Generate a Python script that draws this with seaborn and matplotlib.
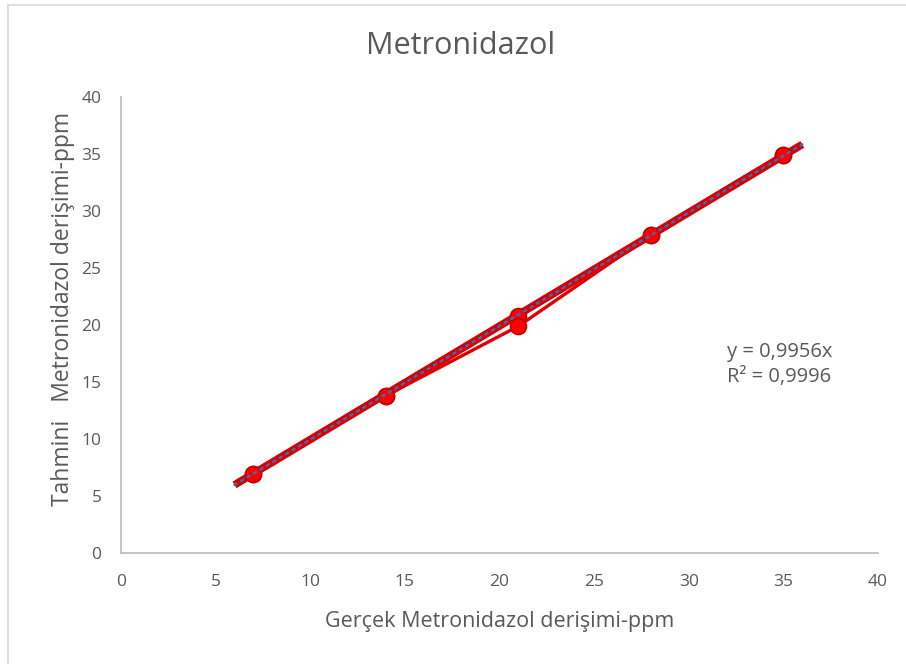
import matplotlib
matplotlib.use("Agg")
import matplotlib.pyplot as plt
from matplotlib.lines import Line2D
import numpy as np
import pandas as pd
import seaborn as sns

# Measured vs. predicted concentrations (ppm); the 21 ppm level has two readings
gercek = [7, 14, 21, 28, 35]
tahmin_a = [6.9, 13.8, 20.8, 27.9, 34.9]
tahmin_b = [6.9, 13.8, 19.9, 27.9, 34.9]

# Linear trendline through the origin
egim = 0.9956
r_kare = 0.9996
trend_x = [6, 36]

x_ticks = [0, 5, 10, 15, 20, 25, 30, 35, 40]
y_ticks = [0, 5, 10, 15, 20, 25, 30, 35, 40]

df = pd.DataFrame({
    "gercek": gercek + gercek,
    "tahmin": tahmin_a + tahmin_b,
    "seri": ["a"] * len(gercek) + ["b"] * len(gercek),
})

sns.set_theme(style="white")
plt.rcParams["font.family"] = ["Open Sans", "DejaVu Sans"]

text_gray = "#595959"
axis_gray = "#bfbfbf"
red = "#e00000"

fig = plt.figure(figsize=(9.06, 6.64), dpi=100)
ax = fig.add_axes([121 / 906, 1 - 553 / 664, 757 / 906, 456 / 664])

# Trendline: thick red line with a blue dotted overlay
tx = np.array(trend_x, dtype=float)
ty = egim * tx
ax.plot(tx, ty, color="#d40000", lw=5.5, solid_capstyle="butt", zorder=2)

sns.lineplot(data=df, x="gercek", y="tahmin", hue="seri", units="seri",
             estimator=None, sort=False, palette=[red, red], lw=2.4,
             marker="o", markersize=11.5, markerfacecolor="#ff0000",
             markeredgecolor="#c00000", markeredgewidth=1.2,
             legend=False, ax=ax, zorder=3)

ax.plot(tx, ty, color="#3a6cb8", lw=1.8, linestyle=(0, (1, 2.0)),
        dash_capstyle="round", zorder=4)

ax.set_xlim(0, 40)
ax.set_ylim(0, 40)
ax.set_xticks(x_ticks)
ax.set_yticks(y_ticks)
ax.tick_params(axis="both", length=0, labelsize=12.5, colors=text_gray)
ax.tick_params(axis="x", pad=15)
ax.tick_params(axis="y", pad=14)

for side in ("top", "right"):
    ax.spines[side].set_visible(False)
for side in ("left", "bottom"):
    ax.spines[side].set_color(axis_gray)
    ax.spines[side].set_linewidth(1.3)

ax.set_xlabel("Gerçek Metronidazol derişimi-ppm", fontsize=15.5,
              color=text_gray, labelpad=15)
ax.set_ylabel("Tahmini   Metronidazol derişimi-ppm", fontsize=16.5,
              color=text_gray)
ax.yaxis.set_label_coords(-0.061, 0.535)

fig.text(0.508, 1 - 46 / 664, "Metronidazol", ha="center", va="center",
         fontsize=22, color=text_gray)

ax.text(32.0, 18.5, f"y = {str(egim).replace('.', ',')}x\n"
        f"R² = {str(r_kare).replace('.', ',')}",
        fontsize=14.5, color=text_gray, ha="left", va="top", linespacing=1.3)

# Chart frame
fig.add_artist(Line2D([8 / 906, 8 / 906], [0, 1 - 5 / 664],
                      transform=fig.transFigure, color="#d9d9d9", lw=1.2))
fig.add_artist(Line2D([8 / 906, 1], [1 - 5 / 664, 1 - 5 / 664],
                      transform=fig.transFigure, color="#d9d9d9", lw=1.2))

fig.savefig("out.png", dpi=100, facecolor="white")
